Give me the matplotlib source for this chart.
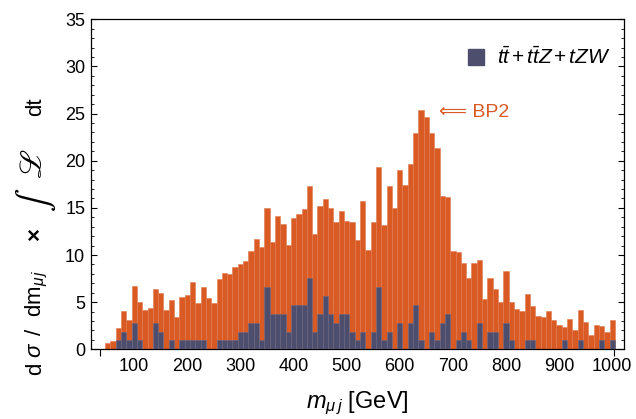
import matplotlib
matplotlib.use("Agg")
import matplotlib.pyplot as plt
from matplotlib.lines import Line2D
from matplotlib.ticker import MultipleLocator, FixedLocator

plt.rcParams['font.family'] = ['Liberation Sans', 'DejaVu Sans']
plt.rcParams['mathtext.fontset'] = 'custom'
plt.rcParams['mathtext.rm'] = 'Liberation Sans'
plt.rcParams['mathtext.it'] = 'Liberation Sans:italic'
plt.rcParams['mathtext.bf'] = 'Liberation Sans:bold'
plt.rcParams['mathtext.fallback'] = 'stix'

# bin centres (GeV), bin width 10 GeV
bin_centers = list(range(50, 1001, 10))
bin_width = 10

# BP2 signal histogram
bp2 = [0.64, 0.88, 2.23, 4.06, 3.07, 6.68, 5.02, 4.13, 4.35, 6.4,
       5.97, 4.17, 5.23, 3.43, 5.53, 5.76, 7.1, 4.95, 6.57, 5.44,
       4.88, 7.46, 8.1, 7.95, 8.73, 9.05, 9.33, 10.4, 11.66, 10.9,
       15.0, 11.4, 14.1, 13.3, 11.1, 13.9, 14.4, 14.9, 17.3, 12.2,
       15.2, 15.9, 14.95, 13.5, 14.7, 13.6, 13.5, 11.6, 15.7, 10.5,
       13.5, 19.3, 13.2, 17.3, 15.0, 19.05, 17.4, 19.7, 22.9, 25.4,
       24.6, 22.9, 21.3, 16.3, 16.2, 10.4, 10.3, 9.15, 7.6, 9.15,
       9.5, 5.3, 7.56, 6.4, 5.0, 8.3, 5.0, 4.28, 4.06, 5.87,
       4.6, 3.53, 3.43, 4.1, 3.1, 2.58, 2.37, 3.2, 2.0, 4.13,
       2.93, 1.52, 2.62, 2.47, 1.8, 3.1]

# background tt + ttZ + tZW histogram
bkg = [0, 0, 0.94, 1.88, 0.94, 2.82, 0.94, 0, 0, 2.82,
       1.88, 0, 0.94, 0, 0.94, 0.94, 0.94, 0.94, 0.94, 0,
       0, 0.94, 0.94, 0.94, 0.94, 1.88, 1.88, 2.82, 2.82, 0.94,
       6.58, 3.76, 3.76, 3.76, 1.88, 4.7, 4.7, 4.7, 7.52, 1.88,
       3.76, 5.64, 3.76, 2.82, 3.76, 3.76, 1.88, 0.94, 1.88, 0,
       1.88, 6.58, 0.94, 1.88, 0, 2.82, 0, 2.82, 4.7, 0.94,
       0, 1.88, 0.94, 2.82, 3.76, 0, 0.94, 1.88, 0.94, 0,
       2.82, 0, 1.88, 1.88, 0, 2.82, 0.94, 0, 0, 0.94,
       0.94, 0, 0, 0, 0, 0, 0.94, 0, 0, 0.94,
       0, 0, 0, 0.94, 0, 0.94]

x_ticks = [100, 200, 300, 400, 500, 600, 700, 800, 900, 1000]
y_ticks = [0, 5, 10, 15, 20, 25, 30, 35]

orange = '#DA5A24'
navy = '#4D4E6D'

W, H = 636, 419
fig = plt.figure(figsize=(W / 100, H / 100), dpi=100)
ax = fig.add_axes([0.1426, 0.1663, 0.981 - 0.1426, 0.954 - 0.1663])

ax.bar(bin_centers, bp2, width=bin_width, color=orange,
       edgecolor='#E07A50', linewidth=0.4, zorder=2)
ax.bar(bin_centers, bkg, width=bin_width, color=navy,
       edgecolor='#6A6A85', linewidth=0.4, zorder=3)

ax.set_xlim(18, 1022)
ax.set_ylim(0, 35)
ax.set_xticks(x_ticks)
ax.set_yticks(y_ticks)
ax.xaxis.set_minor_locator(FixedLocator([35, 1004]))
ax.yaxis.set_minor_locator(MultipleLocator(1))

for s in ax.spines.values():
    s.set_linewidth(0.9)
    s.set_color('black')

ax.xaxis.set_tick_params(which='major', direction='in', length=3.5, width=0.8,
                         top=False, labelsize=13, pad=6)
ax.xaxis.set_tick_params(which='minor', direction='out', length=5, width=0.8,
                         top=False)
ax.yaxis.set_tick_params(which='major', direction='in', length=4, width=0.8,
                         right=True, labelsize=13, pad=4)
ax.yaxis.set_tick_params(which='minor', direction='in', length=2.2, width=0.6,
                         right=True)

# x label
fig.text(357 / W, 1 - 403 / H, r'$m_{\mu\, j}$ [GeV]', ha='center',
         va='center', fontsize=17)

# y label, assembled from pieces along the vertical
ylab_pieces = [
    ('d', 369, 41, {}),
    (r'$\sigma$', 350, 41, {}),
    ('/', 332, 41, {}),
    (r'dm$_{\mu\,j}$', 293, 41, {}),
    ('×', 234, 41, {'fontweight': 'bold'}),
    ('∫', 202, 44, {'family': 'STIXGeneral', 'fontsize': 25}),
    ('ℒ', 163, 41, {'family': 'STIXGeneral', 'fontsize': 22}),
    ('dt', 107, 41, {}),
]
for txt, ypix, xpix, kw in ylab_pieces:
    opts = dict(rotation=90, rotation_mode='anchor', ha='center',
                va='baseline', fontsize=16)
    opts.update(kw)
    fig.text(xpix / W, 1 - ypix / H, txt, **opts)

ax.text(674, 25.1, '⟸ BP2', color=orange, fontsize=14, ha='left',
        va='center', family=['Liberation Sans', 'DejaVu Sans'])

handle = Line2D([], [], marker='s', linestyle='none', markersize=11.5,
                markerfacecolor=navy, markeredgecolor=navy)
ax.legend([handle], [r'$t\bar{t}\,$+$\,t\bar{t}Z\,$+$\,tZW$'],
          loc='center right',
          bbox_to_anchor=(611 / W, 1 - 57 / H),
          bbox_transform=fig.transFigure, frameon=False, fontsize=15,
          handlelength=1.0, handletextpad=0.5, borderpad=0, borderaxespad=0)

fig.savefig('out.png', dpi=100)
